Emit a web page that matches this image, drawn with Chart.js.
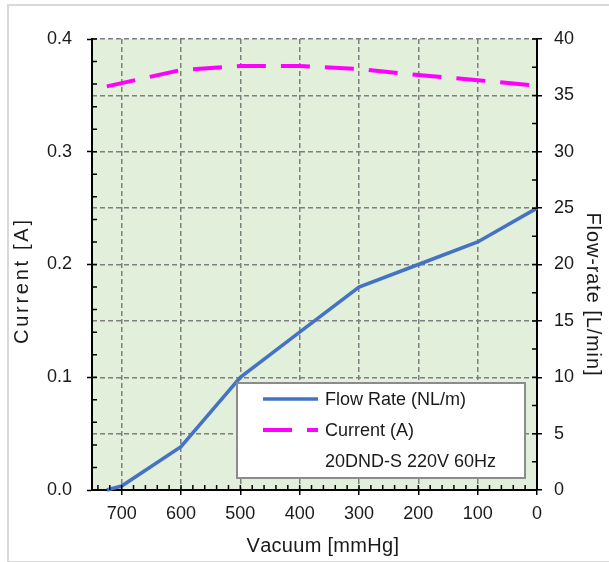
<!DOCTYPE html>
<html>
<head>
<title>20DND-S</title>
<script src="https://cdn.jsdelivr.net/npm/chart.js@4.4.0/dist/chart.umd.min.js"></script>
<style>
  body { margin: 0; background: #fff; overflow: hidden; }
  #wrap { position: relative; width: 609px; height: 562px; overflow: hidden; }
  #frame { position: absolute; left: 7px; top: 4px; width: 700px; height: 555px; border: 2px solid #d9d9d9; }
  #c { position: absolute; left: 0; top: 0; }
</style>
</head>
<body>
<div id="wrap">
  <div id="frame"></div>
  <canvas id="c" width="609" height="562"></canvas>
</div>
<script>
// ---- data ----
const flowVacuum = [725, 700, 600, 500, 400, 300, 200, 100, 0];
const flowRate   = [0, 0.35, 3.84, 10, 14, 18, 20, 22, 25];
const curVacuum  = [725, 600, 500, 400, 300, 200, 100, 10, 0];
const current    = [0.358, 0.3725, 0.376, 0.376, 0.3735, 0.368, 0.3635, 0.359, 0.350];

const xTicks  = [0, 100, 200, 300, 400, 500, 600, 700];
const yTicks  = [0, 0.1, 0.2, 0.3, 0.4];
const y2Ticks = [0, 5, 10, 15, 20, 25, 30, 35, 40];

const legendLabels = ['Flow Rate (NL/m)', 'Current (A)', '20DND-S 220V 60Hz'];
const xTitle = 'Vacuum [mmHg]';
const yTitle = 'Current [A]';
const y2Title = 'Flow-rate [L/min]';

const FONT = "'Liberation Sans', Arial, sans-serif";
const TXT = '#1a1a1a';
const GRID = '#7f7f7f';

const toPts = (xs, ys) => xs.map((x, i) => ({x: x, y: ys[i]}));

// green plot background
const plotBg = {
  id: 'plotBg',
  beforeDraw(chart) {
    const a = chart.chartArea, ctx = chart.ctx;
    ctx.save();
    ctx.fillStyle = '#e2efda';
    ctx.fillRect(a.left, a.top, a.right - a.left, a.bottom - a.top);
    ctx.restore();
  }
};

// minor ticks + inner part of major ticks
const innerTicks = {
  id: 'innerTicks',
  afterDraw(chart) {
    const ctx = chart.ctx, a = chart.chartArea;
    const sx = chart.scales.x, sy = chart.scales.y, sy2 = chart.scales.y2;
    ctx.save();
    ctx.strokeStyle = '#000';
    ctx.lineWidth = 1.5;
    ctx.beginPath();
    for (let v = 0; v <= 740; v += 20) {
      const p = sx.getPixelForValue(v);
      ctx.moveTo(p, a.bottom); ctx.lineTo(p, a.bottom - 5);
    }
    for (let v = 0; v <= 0.4001; v += 0.02) {
      const p = sy.getPixelForValue(v);
      ctx.moveTo(a.left, p); ctx.lineTo(a.left + 5, p);
    }
    for (let v = 0; v <= 40; v += 2.5) {
      const p = sy2.getPixelForValue(v);
      ctx.moveTo(a.right, p); ctx.lineTo(a.right - 5, p);
    }
    ctx.stroke();
    ctx.restore();
  }
};

// spaced-out text, centred on (cx, cy), rotated by rot
function spacedText(ctx, str, cx, cy, rot, len) {
  ctx.save();
  ctx.translate(cx, cy);
  ctx.rotate(rot);
  const w = ctx.measureText(str).width;
  const gap = (len - w) / (str.length - 1);
  let x = -len / 2;
  ctx.textAlign = 'left';
  ctx.textBaseline = 'middle';
  for (const ch of str) {
    ctx.fillText(ch, x, 0);
    x += ctx.measureText(ch).width + gap;
  }
  ctx.restore();
}

// axis titles, placed like the original
const axisTitles = {
  id: 'axisTitles',
  afterDraw(chart) {
    const ctx = chart.ctx;
    ctx.save();
    ctx.fillStyle = TXT;
    ctx.font = '20px ' + FONT;
    spacedText(ctx, xTitle, 322, 546, 0, 151);
    spacedText(ctx, yTitle, 22, 282, -Math.PI / 2, 124);
    spacedText(ctx, y2Title, 593, 294, Math.PI / 2, 163);
    ctx.restore();
  }
};

// legend box inside the plot
const legendBox = {
  id: 'legendBox',
  afterDatasetsDraw(chart) {
    const ctx = chart.ctx;
    const bx = 237, by = 383, bw = 288, bh = 95;
    ctx.save();
    ctx.fillStyle = '#fff';
    ctx.fillRect(bx, by, bw, bh);
    ctx.strokeStyle = '#8c8c8c';
    ctx.lineWidth = 2;
    ctx.strokeRect(bx, by, bw, bh);
    const ds = chart.data.datasets;
    const rows = [399, 430, 461];
    ctx.font = '18px ' + FONT;
    ctx.fillStyle = TXT;
    ctx.textBaseline = 'middle';
    rows.forEach((ry, i) => {
      const d = ds[i];
      if (d) {
        ctx.beginPath();
        ctx.strokeStyle = d.borderColor;
        ctx.lineWidth = d.borderWidth;
        ctx.setLineDash(d.borderDash || []);
        ctx.moveTo(263, ry); ctx.lineTo(318, ry);
        ctx.stroke();
        ctx.setLineDash([]);
      }
      ctx.fillText(legendLabels[i], 325, ry + 1);
    });
    ctx.restore();
  }
};

new Chart(document.getElementById('c'), {
  type: 'line',
  data: {
    datasets: [{
      label: legendLabels[0],
      data: toPts(flowVacuum, flowRate),
      yAxisID: 'y2',
      borderColor: '#4472c4',
      borderWidth: 3.5,
      pointRadius: 0,
      tension: 0,
      clip: false
    }, {
      label: legendLabels[1],
      data: toPts(curVacuum, current),
      yAxisID: 'y',
      borderColor: '#ff00ff',
      borderWidth: 4,
      borderDash: [29, 15],
      pointRadius: 0,
      tension: 0,
      clip: false
    }]
  },
  options: {
    responsive: false,
    animation: false,
    layout: { padding: { top: 39, left: 0, right: 0, bottom: 0 } },
    plugins: { legend: { display: false }, tooltip: { enabled: false } },
    scales: {
      x: {
        type: 'linear',
        position: 'bottom',
        reverse: true,
        min: 0,
        max: 750,
        afterBuildTicks: s => { s.ticks = xTicks.map(v => ({value: v})); },
        afterFit: s => { s.height = 72; },
        ticks: { color: TXT, font: { family: FONT, size: 18 }, padding: 8, maxRotation: 0 },
        grid: {
          color: c => (c.tick && c.tick.value === 0) ? 'rgba(0,0,0,0)' : GRID,
          lineWidth: 1.5,
          tickLength: 5,
          tickColor: '#000',
          tickWidth: 1.5
        },
        border: { display: true, color: '#000', width: 2, dash: [5, 3] }
      },
      y: {
        type: 'linear',
        position: 'left',
        min: 0,
        max: 0.4,
        afterBuildTicks: s => { s.ticks = yTicks.map(v => ({value: v})); },
        afterFit: s => { s.width = 92; },
        ticks: { color: TXT, font: { family: FONT, size: 18 }, padding: 15, callback: v => v.toFixed(1) },
        grid: { drawOnChartArea: false, tickLength: 5, tickColor: '#000', tickWidth: 1.5 },
        border: { display: true, color: '#000', width: 2 }
      },
      y2: {
        type: 'linear',
        position: 'right',
        min: 0,
        max: 40,
        afterBuildTicks: s => { s.ticks = y2Ticks.map(v => ({value: v})); },
        afterFit: s => { s.width = 72; },
        ticks: { color: TXT, font: { family: FONT, size: 18 }, padding: 12 },
        grid: {
          color: c => (c.tick && c.tick.value === 0) ? 'rgba(0,0,0,0)' : GRID,
          lineWidth: 1.5,
          tickLength: 5,
          tickColor: '#000',
          tickWidth: 1.5
        },
        border: { display: true, color: '#000', width: 2, dash: [5, 3] }
      }
    }
  },
  plugins: [plotBg, innerTicks, axisTitles, legendBox]
});
</script>
</body>
</html>
